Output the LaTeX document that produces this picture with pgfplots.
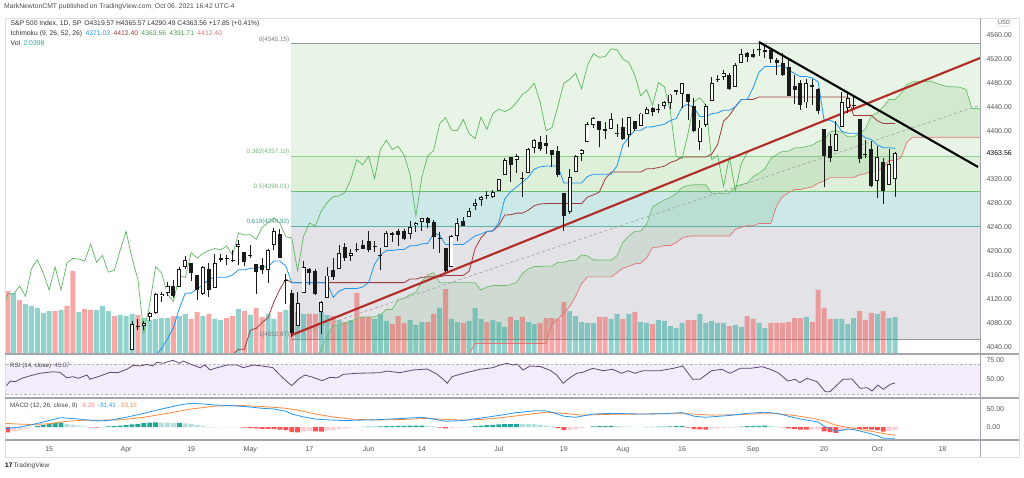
\documentclass[border=0pt]{standalone}
\usepackage{fontspec}
\setmainfont{Liberation Sans}
\usepackage{pgfplots}
\pgfplotsset{compat=1.18}
\usepackage{pgfplotstable}

\definecolor{tickgray}{HTML}{555555}
\definecolor{sepcol}{HTML}{A3A6AF}
\definecolor{framecol}{HTML}{DDDFE3}
\definecolor{fibA}{HTML}{E8F4E5}
\definecolor{fibB}{HTML}{DEF0DA}
\definecolor{fibC}{HTML}{CCE9E7}
\definecolor{fibD}{HTML}{E3E3E7}
\definecolor{fibl0}{HTML}{9598A1}
\definecolor{fibl1}{HTML}{8FCF92}
\definecolor{fibl2}{HTML}{6BBF6E}
\definecolor{fibl3}{HTML}{5DB3AA}
\definecolor{fibt1}{HTML}{74B877}
\definecolor{fibt3}{HTML}{3E9E94}
\definecolor{volup}{HTML}{26A69A}
\definecolor{voldn}{HTML}{EF5350}
\definecolor{convc}{HTML}{2196F3}
\definecolor{basec}{HTML}{A23B3B}
\definecolor{lagc}{HTML}{43A047}
\definecolor{lagline}{HTML}{5DB760}
\definecolor{spanac}{HTML}{6ABF69}
\definecolor{spanbc}{HTML}{E57373}
\definecolor{candark}{HTML}{1A1A1A}
\definecolor{trendred}{HTML}{B22B26}
\definecolor{rsifill}{HTML}{F3ECFB}
\definecolor{rsiline}{HTML}{5B4A70}
\definecolor{macdc}{HTML}{2196F3}
\definecolor{sigc}{HTML}{FF8A3D}
\definecolor{hg}{HTML}{26A69A}
\definecolor{hl}{HTML}{B2DFDB}
\definecolor{hr}{HTML}{FF5252}
\definecolor{hp}{HTML}{FFCDD2}

% daily bars: index (trading days from 15 Mar 2021), open, high, low, close, volume (bn)
\pgfplotstableread{
i O H L C V
-7 3818.5 3843.7 3723.3 3768.5 3.47
-6 3793.6 3851.7 3723.3 3841.9 3.36
-5 3844.4 3881.1 3819.3 3821.4 2.98
-4 3851.9 3903.8 3851.9 3875.4 2.76
-3 3891.0 3918.0 3866.0 3898.8 2.65
-2 3915.5 3960.3 3915.5 3939.3 2.54
-1 3924.5 3944.0 3906.0 3943.3 2.26
0 3943.0 3970.1 3923.5 3968.9 2.37
1 3973.6 3981.0 3953.4 3962.7 2.37
2 3949.6 3983.9 3935.7 3974.1 2.43
3 3953.5 3969.6 3910.0 3915.5 2.65
4 3913.1 3930.1 3886.8 3913.0 4.58
5 3916.5 3955.3 3905.6 3940.6 2.32
6 3937.6 3949.1 3901.8 3910.5 2.48
7 3919.9 3942.1 3889.1 3889.1 2.43
8 3879.3 3919.5 3853.5 3909.5 2.43
9 3917.1 3978.2 3917.1 3974.5 2.65
10 3969.3 3981.8 3923.5 3971.1 2.37
11 3963.3 3968.0 3943.0 3958.6 2.09
12 3967.3 3994.4 3959.0 3972.9 2.15
13 3992.8 4020.6 3992.8 4019.9 2.09
14 4034.4 4083.4 4034.4 4077.9 2.21
15 4075.6 4086.2 4068.1 4073.9 2.15
16 4074.3 4083.1 4068.3 4080.0 1.98
17 4090.0 4098.2 4082.5 4097.2 1.87
18 4096.1 4129.5 4095.5 4128.8 1.93
19 4124.7 4131.8 4114.8 4128.0 1.98
20 4130.1 4148.0 4124.4 4141.6 1.98
21 4141.6 4151.7 4120.9 4124.7 2.09
22 4139.8 4173.5 4139.8 4170.4 2.09
23 4174.1 4191.3 4170.8 4185.5 2.21
24 4179.8 4180.8 4150.5 4163.3 1.93
25 4159.2 4159.2 4118.4 4134.9 2.32
26 4128.4 4175.0 4126.4 4173.4 2.09
27 4170.5 4179.6 4123.7 4135.0 2.21
28 4138.8 4194.2 4138.8 4180.2 1.93
29 4185.0 4194.2 4182.4 4187.6 1.87
30 4188.3 4193.4 4176.2 4186.7 1.98
31 4185.1 4201.5 4181.8 4183.2 2.09
32 4206.1 4218.8 4176.8 4211.5 2.48
33 4198.1 4198.1 4174.9 4181.2 2.37
34 4192.0 4209.4 4188.0 4192.7 2.15
35 4179.0 4179.0 4128.6 4164.7 2.54
36 4177.1 4187.7 4160.9 4167.6 2.04
37 4169.1 4202.7 4147.3 4201.6 2.21
38 4210.3 4238.0 4201.6 4232.6 1.93
39 4228.3 4236.4 4188.1 4188.4 2.32
40 4150.3 4162.0 4111.5 4152.1 2.43
41 4130.6 4134.7 4056.6 4063.0 2.70
42 4075.0 4131.6 4075.0 4112.5 2.32
43 4129.6 4183.1 4129.6 4173.9 2.21
44 4169.9 4171.9 4142.7 4163.3 2.21
45 4165.9 4169.2 4126.0 4127.8 2.21
46 4098.5 4116.9 4061.4 4115.7 2.32
47 4122.0 4172.8 4122.0 4159.1 2.15
48 4168.6 4188.7 4151.7 4155.9 2.09
49 4170.2 4209.5 4170.2 4197.1 1.87
50 4205.9 4213.4 4182.5 4188.1 1.76
51 4191.6 4202.6 4184.1 4196.0 1.87
52 4201.9 4213.4 4197.8 4200.9 3.36
53 4210.8 4218.4 4203.6 4204.1 2.04
54 4216.5 4234.1 4197.6 4202.0 2.04
55 4206.8 4217.4 4198.3 4208.1 1.93
56 4191.4 4204.4 4167.9 4192.9 2.21
57 4206.1 4233.5 4206.1 4229.9 1.82
58 4229.3 4232.3 4215.7 4226.5 1.65
59 4233.8 4236.7 4208.4 4227.3 2.09
60 4233.0 4237.1 4218.7 4219.6 1.71
61 4228.6 4249.7 4220.3 4239.2 1.87
62 4242.9 4248.4 4232.3 4247.4 1.60
63 4248.3 4255.6 4234.1 4255.2 1.76
64 4255.3 4257.2 4238.4 4246.6 1.76
65 4248.9 4251.9 4202.5 4223.7 2.21
66 4220.4 4232.3 4196.1 4221.9 2.54
67 4204.8 4204.8 4164.4 4166.5 3.58
68 4173.4 4226.2 4173.4 4224.8 1.93
69 4224.6 4255.8 4217.3 4246.4 1.76
70 4249.3 4256.6 4241.4 4241.8 1.71
71 4257.0 4271.3 4257.0 4266.5 1.82
72 4274.5 4286.1 4268.0 4280.7 2.54
73 4284.9 4292.1 4274.7 4290.6 1.93
74 4293.2 4300.5 4286.2 4291.8 1.76
75 4290.7 4302.4 4288.0 4297.5 1.87
76 4300.7 4320.7 4300.7 4319.9 1.76
77 4326.6 4355.4 4326.6 4352.3 1.49
78 4356.5 4356.5 4314.4 4343.5 2.04
79 4351.0 4361.9 4329.8 4358.1 1.87
80 4321.1 4330.9 4289.4 4320.8 2.04
81 4329.4 4371.6 4329.4 4369.6 1.76
82 4372.4 4386.7 4364.0 4384.6 1.65
83 4381.1 4392.4 4366.9 4369.2 1.71
84 4380.1 4393.7 4362.4 4374.3 1.98
85 4369.0 4369.0 4340.7 4360.0 1.98
86 4367.4 4375.1 4322.5 4327.2 1.93
87 4296.4 4296.4 4233.1 4258.5 2.87
88 4265.1 4336.8 4262.1 4323.1 2.37
89 4331.1 4359.7 4331.1 4358.7 2.09
90 4361.3 4369.9 4350.1 4367.5 1.76
91 4381.2 4415.2 4381.2 4411.8 1.71
92 4409.6 4422.7 4405.5 4422.3 1.71
93 4416.4 4416.4 4372.5 4401.5 2.04
94 4403.0 4415.5 4387.0 4400.6 2.04
95 4403.6 4430.0 4403.6 4419.2 1.93
96 4395.1 4412.3 4389.7 4395.3 2.21
97 4406.9 4422.2 4384.8 4387.2 1.93
98 4392.7 4423.8 4373.0 4423.2 2.21
99 4416.0 4416.2 4400.2 4402.7 2.32
100 4408.9 4429.8 4408.9 4429.1 1.76
101 4429.1 4440.8 4429.1 4436.5 1.71
102 4437.8 4439.4 4424.7 4432.4 1.65
103 4435.8 4445.2 4430.0 4436.8 1.87
104 4442.2 4449.4 4436.4 4447.7 1.82
105 4446.1 4461.8 4436.0 4460.8 1.54
106 4464.8 4468.4 4460.8 4468.0 1.43
107 4461.7 4480.3 4437.7 4479.7 1.71
108 4462.1 4462.1 4417.8 4448.1 1.87
109 4440.9 4454.3 4397.6 4400.3 1.87
110 4382.4 4418.6 4367.7 4405.8 2.21
111 4410.6 4444.4 4406.8 4441.7 1.71
112 4450.3 4489.9 4450.3 4479.5 1.82
113 4484.4 4492.8 4482.3 4486.2 1.71
114 4490.5 4501.7 4485.7 4496.2 1.71
115 4493.8 4495.9 4469.0 4470.0 1.54
116 4474.1 4513.3 4474.1 4509.4 1.60
117 4513.8 4537.4 4513.8 4528.8 1.49
118 4529.8 4531.4 4515.8 4522.7 2.09
119 4528.8 4537.1 4522.0 4524.1 1.93
120 4534.5 4545.9 4524.7 4537.0 1.71
121 4532.4 4541.5 4521.3 4535.4 1.43
122 4535.4 4535.4 4513.0 4520.0 1.71
123 4518.1 4521.8 4494.0 4514.1 1.71
124 4513.0 4529.9 4492.1 4493.3 1.71
125 4506.9 4520.5 4457.7 4458.6 1.76
126 4474.8 4493.0 4445.7 4468.7 1.98
127 4479.3 4485.7 4435.5 4443.1 1.98
128 4447.5 4486.9 4438.4 4480.7 2.04
129 4477.1 4485.9 4443.8 4473.8 1.76
130 4469.7 4471.5 4427.8 4433.0 3.53
131 4403.0 4403.0 4305.9 4357.7 2.54
132 4374.5 4394.9 4348.0 4354.2 1.93
133 4367.4 4416.8 4367.4 4395.6 1.93
134 4406.8 4465.4 4406.8 4449.0 1.93
135 4438.0 4463.1 4430.3 4455.5 1.65
136 4442.1 4457.3 4436.2 4443.1 1.98
137 4419.5 4419.5 4346.3 4352.6 2.37
138 4362.4 4385.6 4355.1 4359.5 1.87
139 4370.7 4382.6 4306.2 4307.5 2.26
140 4317.2 4375.2 4288.5 4357.0 2.21
141 4348.8 4355.5 4278.9 4300.5 2.37
142 4309.9 4369.2 4309.9 4345.7 1.98
143 4319.57 4365.57 4290.49 4363.56 2.04
}\ohlc

% Ichimoku conversion (9) and base (26) lines
\pgfplotstableread{
i conv base
14 3968.5 3903.4
15 3969.9 3904.8
16 3969.9 3904.8
17 4007.6 3910.7
18 4026.5 3926.4
19 4037.4 3927.5
20 4053.5 3983.5
21 4072.2 4002.6
22 4104.0 4013.5
23 4129.7 4022.4
24 4129.8 4022.4
25 4136.9 4022.4
26 4143.4 4022.4
27 4153.1 4022.4
28 4156.3 4023.8
29 4156.3 4023.9
30 4156.3 4023.9
31 4160.0 4027.5
32 4168.6 4036.1
33 4168.6 4036.1
34 4171.2 4067.9
35 4171.2 4071.1
36 4173.7 4080.9
37 4173.7 4088.9
38 4183.3 4115.4
39 4183.3 4136.2
40 4174.8 4153.1
41 4147.3 4147.3
42 4147.3 4147.3
43 4147.3 4147.3
44 4147.3 4147.3
45 4147.3 4147.3
46 4147.3 4147.3
47 4146.5 4147.3
48 4122.7 4147.3
49 4133.0 4147.3
50 4137.4 4147.3
51 4137.4 4147.3
52 4137.4 4147.3
53 4139.9 4147.3
54 4147.8 4147.3
55 4178.0 4147.3
56 4192.9 4147.3
57 4201.0 4147.3
58 4201.0 4147.3
59 4202.3 4147.3
60 4202.5 4147.3
61 4208.8 4153.2
62 4208.8 4153.2
63 4211.8 4156.1
64 4212.5 4156.9
65 4229.8 4156.9
66 4226.6 4156.9
67 4210.8 4159.3
68 4210.8 4159.3
69 4210.8 4159.3
70 4210.8 4159.3
71 4217.8 4166.3
72 4225.3 4204.0
73 4228.3 4221.9
74 4232.5 4232.5
75 4233.4 4233.4
76 4247.0 4242.5
77 4286.4 4259.9
78 4298.9 4260.4
79 4306.7 4263.1
80 4314.9 4263.1
81 4323.1 4268.0
82 4336.4 4275.5
83 4340.2 4278.4
84 4341.5 4279.0
85 4341.5 4279.0
86 4341.5 4279.0
87 4313.4 4279.0
88 4313.4 4279.0
89 4313.4 4279.0
90 4313.4 4279.0
91 4324.2 4289.8
92 4327.9 4293.6
93 4327.9 4298.1
94 4327.9 4320.0
95 4327.9 4331.6
96 4342.4 4331.6
97 4376.9 4331.6
98 4390.0 4331.6
99 4401.2 4331.6
100 4401.2 4331.6
101 4406.7 4337.0
102 4406.9 4337.0
103 4409.1 4339.2
104 4411.2 4341.3
105 4417.4 4347.5
106 4420.7 4350.8
107 4440.2 4356.7
108 4444.6 4356.7
109 4438.9 4356.7
110 4424.0 4356.7
111 4424.0 4356.7
112 4428.8 4361.5
113 4430.3 4377.4
114 4434.7 4416.4
115 4434.7 4425.9
116 4440.5 4440.5
117 4452.5 4452.5
118 4452.5 4452.5
119 4472.1 4452.5
120 4498.1 4456.8
121 4507.4 4456.8
122 4507.4 4456.8
123 4507.4 4456.8
124 4510.0 4456.8
125 4501.8 4456.8
126 4495.8 4456.8
127 4490.7 4456.8
128 4490.7 4456.8
129 4488.5 4456.8
130 4481.6 4456.8
131 4417.9 4456.8
132 4417.9 4456.8
133 4413.2 4456.8
134 4399.5 4456.8
135 4396.4 4456.8
136 4396.4 4425.9
137 4395.9 4425.9
138 4388.7 4425.9
139 4385.7 4425.9
140 4377.0 4417.2
141 4372.2 4412.4
142 4372.2 4412.4
143 4371.03 4412.40
}\ichi

% leading spans A and B (value at source bar; drawn 25 bars ahead)
\pgfplotstableread{
i A B
14 3936.0 3888.8
15 3937.4 3890.2
16 3937.4 3890.2
17 3959.2 3896.2
18 3976.5 3911.8
19 3982.5 3912.9
20 4018.5 3921.1
21 4037.4 3922.9
22 4058.8 3948.4
23 4076.0 3957.3
24 4076.1 3957.3
25 4079.7 3957.3
26 4082.9 3957.3
27 4087.8 3957.3
28 4090.0 3958.8
29 4090.1 3958.8
30 4090.1 3958.8
31 4093.8 3962.4
32 4102.4 3971.1
33 4102.4 3971.1
34 4119.6 3971.1
35 4121.2 3971.1
36 4127.3 3971.1
37 4131.3 3971.1
38 4149.4 3980.7
39 4159.8 3980.7
40 4164.0 3980.7
41 4147.3 3980.7
42 4147.3 3980.7
43 4147.3 3980.7
44 4147.3 3980.7
45 4147.3 3980.7
46 4147.3 4028.6
47 4146.9 4045.7
48 4135.0 4045.7
49 4140.2 4045.7
50 4142.4 4045.7
51 4142.4 4045.7
52 4142.4 4045.7
53 4143.6 4045.7
54 4147.6 4045.7
55 4162.7 4045.7
56 4170.1 4045.7
57 4174.2 4045.7
58 4174.2 4045.7
59 4174.8 4045.7
60 4174.9 4077.6
61 4181.0 4086.6
62 4181.0 4096.4
63 4184.0 4107.6
64 4184.7 4125.0
65 4193.4 4145.8
66 4191.8 4156.9
67 4185.1 4156.9
68 4185.1 4156.9
69 4185.1 4156.9
70 4185.1 4156.9
71 4192.1 4163.9
72 4214.7 4171.4
73 4225.1 4174.4
74 4232.5 4178.6
75 4233.4 4179.5
76 4244.8 4188.6
77 4273.2 4206.0
78 4279.7 4206.5
79 4284.9 4209.2
80 4289.0 4209.2
81 4295.6 4214.1
82 4306.0 4221.6
83 4309.3 4224.5
84 4310.3 4225.1
85 4310.3 4225.1
86 4310.3 4225.1
87 4296.2 4225.1
88 4296.2 4225.1
89 4296.2 4225.1
90 4296.2 4225.1
91 4307.0 4235.9
92 4310.8 4239.7
93 4313.0 4242.1
94 4324.0 4242.1
95 4329.8 4245.7
96 4337.0 4245.7
97 4354.3 4245.7
98 4360.8 4276.0
99 4366.4 4290.8
100 4366.4 4297.2
101 4371.9 4302.6
102 4372.0 4302.6
103 4374.2 4304.8
104 4376.3 4306.9
105 4382.5 4313.1
106 4385.8 4316.4
107 4398.5 4322.3
108 4400.7 4322.3
109 4397.8 4322.3
110 4390.4 4322.3
111 4390.4 4322.3
112 4395.2 4327.1
113 4403.9 4328.6
114 4425.6 4333.1
115 4430.3 4333.1
116 4440.5 4338.9
117 4452.5 4350.9
118 4452.5 4350.9
119 4462.3 4355.4
120 4477.5 4381.6
121 4482.1 4389.5
122 4482.1 4389.5
123 4482.1 4389.5
124 4483.4 4389.5
125 4479.3 4389.5
126 4476.3 4389.5
127 4473.8 4389.5
128 4473.8 4389.5
129 4472.7 4389.5
130 4469.2 4389.5
131 4437.4 4389.5
132 4437.4 4389.5
133 4435.0 4389.5
134 4428.2 4389.5
135 4426.6 4389.5
136 4411.2 4389.5
137 4410.9 4389.5
138 4407.3 4389.5
139 4405.8 4404.0
140 4397.1 4417.2
141 4392.3 4412.4
142 4392.3 4412.4
143 4391.71 4412.40
}\leadtab

\pgfplotsset{
  pane/.style={scale only axis, width=975pt, xmin=-7.473, xmax=157.36,
    anchor=south west, clip=true, axis line style={draw=none},
    major tick length=0pt, tick style={draw=none}},
  scalelab/.style={yticklabel pos=right, ytick pos=right,
    yticklabel style={font=\fontsize{7}{8}\selectfont, text=tickgray, anchor=west, xshift=3pt},
    /pgf/number format/assume math mode=true,
    /pgf/number format/fixed, /pgf/number format/fixed zerofill,
    /pgf/number format/precision=2, /pgf/number format/1000 sep={}},
}

\begin{document}
\begin{tikzpicture}[x=1pt,y=1pt]
\useasboundingbox (0,0) rectangle (1024,477);
\fill[white] (0,0) rectangle (1024,477);

% ---------- price pane: fib background
\begin{axis}[pane, at={(5pt,123pt)}, height=336pt, ymin=4028.33, ymax=4588.33,
  xtick=\empty, ytick=\empty]
  \addplot[draw=none, fill=fibA] coordinates {(40.88,4545.15) (158,4545.15) (158,4357.10) (40.88,4357.10) (40.88,4545.15)};
  \addplot[draw=none, fill=fibB] coordinates {(40.88,4357.10) (158,4357.10) (158,4299.01) (40.88,4299.01) (40.88,4357.10)};
  \addplot[draw=none, fill=fibC] coordinates {(40.88,4299.01) (158,4299.01) (158,4240.92) (40.88,4240.92) (40.88,4299.01)};
  \addplot[draw=none, fill=fibD] coordinates {(40.88,4240.92) (158,4240.92) (158,4052.87) (40.88,4052.87) (40.88,4240.92)};
  \addplot[fibl0, line width=1pt] coordinates {(40.88,4545.15) (158,4545.15)};
  \addplot[fibl1, line width=1pt] coordinates {(40.88,4357.10) (158,4357.10)};
  \addplot[fibl2, line width=1pt] coordinates {(40.88,4299.01) (158,4299.01)};
  \addplot[fibl3, line width=1.3pt] coordinates {(40.88,4240.92) (158,4240.92)};
  \addplot[fibl0, line width=1pt] coordinates {(40.88,4052.87) (158,4052.87)};
\end{axis}

% ---------- Ichimoku cloud (stacked: span B, then A minus B)
\begin{axis}[pane, at={(5pt,123pt)}, height=336pt, ymin=4028.33, ymax=4588.33,
  xtick=\empty, ytick=\empty, stack plots=y]
  \addplot[draw=none] table[x expr=\thisrow{i}+25, y=B] \leadtab;
  \addplot[draw=none, fill=lagc, fill opacity=0.13] table[x expr=\thisrow{i}+25, y expr=\thisrow{A}-\thisrow{B}] \leadtab \closedcycle;
\end{axis}

% ---------- volume overlay
\begin{axis}[pane, at={(5pt,123pt)}, height=336pt, ymin=0, ymax=18.52,
  xtick=\empty, ytick=\empty]
  \addplot[ybar, bar width=5pt, bar shift=0pt, draw=none, fill=volup, fill opacity=0.5]
    table[x=i, y expr={(\thisrow{C}>=\thisrow{O})*\thisrow{V}}] \ohlc;
  \addplot[ybar, bar width=5pt, bar shift=0pt, draw=none, fill=voldn, fill opacity=0.5]
    table[x=i, y expr={(\thisrow{C}<\thisrow{O})*\thisrow{V}}] \ohlc;
\end{axis}

% ---------- price pane: lines, candles, scale
\begin{axis}[pane, scalelab, at={(5pt,123pt)}, height=336pt, ymin=4028.33, ymax=4588.33,
  xtick=\empty,
  ytick={4040,4080,4120,4160,4200,4240,4280,4320,4400,4440,4480,4520,4560},
  extra y ticks={4363.56},
  extra y tick style={yticklabel style={text=black}}]
  % Ichimoku lines
  \addplot[spanac, line width=0.7pt] table[x expr=\thisrow{i}+25, y=A] \leadtab;
  \addplot[spanbc, line width=0.7pt] table[x expr=\thisrow{i}+25, y=B] \leadtab;
  \addplot[basec, line width=0.8pt] table[x=i, y=base] \ichi;
  \addplot[convc, line width=0.8pt] table[x=i, y=conv] \ichi;
  \addplot[lagline, line width=0.7pt] table[x expr=\thisrow{i}-25, y=C] \ohlc;
  % trend lines
  \addplot[gray!70, line width=0.7pt, dash pattern=on 3pt off 2.5pt] coordinates {(41.0,4058.3) (157.4,4443.3)};
  \addplot[trendred, line width=2.1pt] coordinates {(41.0,4060.0) (157.4,4521.7)};
  % candles: wicks, bodies, hollow interiors
  \addplot[draw=none, mark=none, error bars/.cd, y dir=plus, y explicit, error mark=none,
    error bar style={line width=1pt, draw=candark, solid}]
    table[x=i, y=L, y error plus expr=\thisrow{H}-\thisrow{L}] \ohlc;
  \addplot[draw=none, mark=none, error bars/.cd, y dir=plus, y explicit, error mark=none,
    error bar style={line width=4pt, draw=candark, solid}]
    table[x=i, y expr={min(\thisrow{O},\thisrow{C})}, y error plus expr={max(abs(\thisrow{C}-\thisrow{O}),1.6)}] \ohlc;
  \addplot[draw=none, mark=none, error bars/.cd, y dir=plus, y explicit, error mark=none,
    error bar style={line width=2.2pt, draw=white, solid}]
    table[x=i, y expr={min(\thisrow{O},\thisrow{C})+1.6}, y error plus expr={max(\thisrow{C}-\thisrow{O}-3.2,0)}] \ohlc;
  \addplot[black, line width=2.1pt] coordinates {(120.0,4548.3) (157.03,4340.0)};
  % fib labels
  \begin{scope}[every node/.style={anchor=east, inner sep=0.5pt, yshift=4.5pt, font=\fontsize{6.3}{7}\selectfont}]
  \node[text=fibl0!80!black] at (axis cs:40.7,4545.15) {0(4545.15)};
  \node[text=fibt1] at (axis cs:40.7,4357.10) {0.382(4357.10)};
  \node[text=fibt1] at (axis cs:40.7,4299.01) {0.5(4299.01)};
  \node[text=fibt3] at (axis cs:40.7,4240.92) {0.618(4240.92)};
  \node[text=fibl0!80!black] at (axis cs:40.7,4052.87) {1(4052.87)};
  \end{scope}
\end{axis}

% ---------- RSI pane
\begin{axis}[pane, scalelab, at={(5pt,79pt)}, height=44pt, ymin=25.07, ymax=83.73,
  xtick=\empty, ytick={50,75}]
  \addplot[draw=none, fill=rsifill] coordinates {(-8,30) (158,30) (158,70) (-8,70) (-8,30)};
  \addplot[gray!60, line width=0.6pt, dash pattern=on 2.5pt off 2pt] coordinates {(-8,70) (158,70)};
  \addplot[gray!60, line width=0.6pt, dash pattern=on 2.5pt off 2pt] coordinates {(-8,30) (158,30)};
  \addplot[rsiline, line width=0.8pt] coordinates {
(-7.2,41.5) (-6.6,47.7) (-5.8,46.8) (-4.4,52) (-2.7,55.7) (-1.6,58) (0.6,60) (1.8,59.3) (3,52) (4,53.5) (4.9,51.3) (6.4,55.7) (6.9,50) (8.6,54.4) (10.3,59.3) (11.6,58.8) (13.2,63.7) (14.2,68.7) (15.4,67.7) (16.5,70) (17.5,67.7) (18.2,72.7) (19.2,71.3) (20.1,73.5) (20.9,75.3) (22.1,71.3) (22.6,74.4) (24.3,69) (25.5,65.5) (26.3,69) (27.2,62.4) (28.4,65.5) (30.1,69) (31.8,69) (32.8,65.5) (34.5,69) (36.1,67.7) (37.8,65.5) (39,55.7) (39.9,49) (41,41.5) (42.1,50) (43.2,55.7) (44.6,52.6) (46.1,48.2) (47.5,52.6) (48.7,52) (49.7,56.6) (52,58) (55.9,58.8) (57.1,61) (59.3,58.8) (61.5,62.4) (63.9,63.7) (65.6,56.6) (66.6,50) (67.3,44.7) (68.1,53.5) (69.4,56.6) (71.1,60) (72.8,63.3) (75,65.5) (76.2,69) (77.4,71.3) (78.4,69) (79.1,70.4) (80.1,62.4) (81.3,67.7) (83,67) (84.7,62) (85.8,55.7) (86.9,44.7) (88,52) (89.2,58) (90.2,59.3) (91.9,64.6) (93.6,61.5) (95.2,63.3) (96.8,58) (97.9,61.5) (99,58) (100.4,61.5) (103.3,61.5) (105.5,64.6) (107.1,67.7) (108.8,50) (110,50) (112,61.5) (113.7,63.3) (115.1,58) (116.8,64.6) (118.5,64.6) (120.5,66.8) (121.9,63.3) (123.2,58.8) (124.9,47.7) (126.1,50) (126.9,45.5) (128.1,51.3) (129.8,46.8) (131.2,33.5) (132,33.5) (134.2,50) (135.7,50.4) (137.1,38) (138.3,38.8) (139.1,34.4) (140.1,42.4) (141,36.7) (142.2,43.3) (143,45.07)};
\end{axis}

% ---------- MACD pane
\begin{axis}[pane, scalelab, at={(5pt,37pt)}, height=42pt, ymin=-36.11, ymax=80.56,
  ytick={0,50},
  xtick={0,13,24,34,44,54,63,76,87,97,107,119,131,140,151},
  xticklabels={15,Apr,19,May,17,Jun,14,Jul,19,Aug,16,Sep,20,Oct,18},
  xticklabel style={font=\fontsize{7}{8}\selectfont, text=tickgray, anchor=base, yshift=-11pt}]
  \addplot[ybar, bar width=4.9pt, bar shift=0pt, draw=none, fill=hg] coordinates {
(-2,3) (-1,6) (0,9) (1,11) (2,12.5) (9,0.5) (10,1.5) (11,2.5) (12,4) (13,5.5) (14,7) (15,8.5) (16,10.5) (17,12) (18,13) (22,11.5)
(54,1) (55,1.4) (56,1.8) (57,2.2) (58,2.6) (59,3) (60,3.2) (61,3.5) (62,3.7) (63,4)
(71,0.6) (72,2.4) (73,4) (74,5) (75,6) (76,7) (77,7.7) (78,8.3) (79,9)
(92,2) (93,2.2) (94,2.5) (95,2.8) (101,0.3) (102,0.6) (103,0.9) (104,1.2) (105,1.8) (106,2.4) (107,3)
(116,0.5) (117,1.25) (118,2.5) (119,2.75) (120,3) (121,4)};
  \addplot[ybar, bar width=4.9pt, bar shift=0pt, draw=none, fill=hl] coordinates {
(3,9) (4,6.5) (5,4) (6,1.5) (19,12.5) (20,12) (21,11) (23,10) (24,8) (25,6) (26,3) (52,0.4) (53,0.8)
(64,3) (65,1.5) (80,8.7) (81,8.3) (82,8) (83,6) (84,4) (85,1.5) (96,2.3) (97,1.7) (98,1.1) (99,0.6) (100,0.3) (122,2.5) (123,1)};
  \addplot[ybar, bar width=4.9pt, bar shift=0pt, draw=none, fill=hr] coordinates {
(-7,-15) (7,-1) (8,-1.8) (33,-2) (34,-3) (35,-4) (36,-5) (37,-5.5) (38,-6) (39,-7) (40,-9) (41,-14) (42,-15) (45,-12) (46,-12.5)
(66,-1.5) (67,-3.5) (86,-3) (87,-8) (108,-2) (109,-6) (110,-6.5) (111,-7)
(124,-1.3) (125,-3.7) (126,-6) (127,-7.3) (128,-7.4) (131,-12) (132,-14) (133,-16) (137,-5) (138,-6) (139,-7.5) (140,-9) (141,-13)};
  \addplot[ybar, bar width=4.9pt, bar shift=0pt, draw=none, fill=hp] coordinates {
(-6,-12) (-5,-9) (-4,-5) (-3,-1) (27,-1.5) (28,-1.2) (29,-1) (30,-1.2) (31,-1) (32,-0.8) (43,-13) (44,-11)
(47,-10) (48,-8) (49,-6) (50,-4) (51,-2) (68,-2.5) (69,-1.8) (70,-1) (88,-7.8) (89,-6.5) (90,-3) (91,-0.5)
(112,-4.75) (113,-3.75) (114,-2.75) (115,-1.75) (129,-7) (130,-6.5) (134,-11) (135,-5) (136,-3.5) (142,-10.6) (143,-8.26)};
  \addplot[sigc, line width=0.8pt] coordinates {
(-7.5,10) (-5,8) (-3,7) (0,9) (3,16) (6,19) (9,19) (12,20) (16,27) (20,38) (24,50) (28,58) (32,60) (36,57) (40,52) (42,47) (45,36) (48,28) (51,22) (55,19.5) (60,21) (64,24) (67,21) (70,19) (73,21) (76,25) (80,33) (84,41) (87,38) (90,33) (94,35) (100,36) (105,37) (108,37) (112,33) (116,34) (120,37) (123,37) (126,32) (129,24) (131,17) (133,5) (135,-1) (137,-6) (139,-12) (141,-18) (143,-23.15)};
  \addplot[macdc, line width=0.8pt] coordinates {
(-7.5,-5) (-5,0) (-3,6) (0,18) (2,26) (5,22) (8,17) (10,18) (13,27) (16,38) (19,50) (22,61) (24,66) (26,64) (28,61) (30,60) (33,57) (36,52) (38,50) (40,44) (41,36) (43,28) (45,22) (48,19) (50,18) (55,20) (60,24) (63,27) (65,22) (67,16) (70,18) (73,25) (76,32) (79,40) (82,45) (84,45) (86,36) (87,30) (89,27) (92,36) (95,38) (100,36) (104,37) (107,40) (109,30) (111,27) (115,32) (118,38) (121,41) (123,38) (127,22) (130,14) (131,2) (133,-12) (135,-6) (136,-7) (138,-15) (140,-24) (141,-31) (143,-31.41)};
\end{axis}

% ---------- frame and separators
\draw[framecol, line width=0.8pt] (5,20) rectangle (1019,459);
\draw[sepcol, line width=1.2pt] (5,123) -- (1019,123);
\draw[sepcol, line width=1.2pt] (5,79) -- (1019,79);
\draw[sepcol, line width=1.2pt] (5,37) -- (1019,37);
\draw[sepcol, line width=1pt] (980,20) -- (980,459);

% ---------- texts
\node[anchor=west, inner sep=0pt, font=\fontsize{6.8}{7.5}\selectfont, text=black!70] at (4,470)
  {MarkNewtonCMT published on TradingView.com, Oct 06, 2021 16:42 UTC-4};
\node[anchor=west, inner sep=0pt, font=\fontsize{6.8}{7.5}\selectfont, text=black!80] at (10.5,453)
  {S\&P 500 Index, 1D, SP\hspace{3pt}O4319.57\hspace{1.8pt}H4365.57\hspace{1.8pt}L4290.49\hspace{1.8pt}C4363.56\hspace{1.8pt}+17.85 (+0.41\%)};
\node[anchor=west, inner sep=0pt, font=\fontsize{6.8}{7.5}\selectfont, text=black!80] at (10.5,443.5)
  {Ichimoku (9, 26, 52, 26)\enspace\textcolor{convc}{4371.03}\enspace\textcolor{basec}{4412.40}\enspace\textcolor{lagc}{4363.56}\enspace\textcolor{lagc}{4391.71}\enspace\textcolor{spanbc}{4412.40}};
\node[anchor=west, inner sep=0pt, font=\fontsize{6.8}{7.5}\selectfont, text=black!80] at (10.5,434)
  {Vol\enspace\textcolor{volup}{2.0398}};
\node[anchor=west, inner sep=0pt, font=\fontsize{6.2}{7}\selectfont, text=black!75] at (10,111)
  {RSI (14, close)\enspace\textcolor{rsiline}{45.07}};
\node[anchor=west, inner sep=0pt, font=\fontsize{6.3}{7}\selectfont, text=black!75] at (10,71)
  {MACD (12, 26, close, 9)\enspace\textcolor{hr!70}{-8.26}\enspace\textcolor{macdc}{-31.41}\enspace\textcolor{sigc}{-23.15}};
\node[draw=gray!50, rounded corners=1.5pt, inner sep=1.2pt, font=\fontsize{5.5}{6}\selectfont, text=tickgray] at (1004,454) {USD};
\node[anchor=west, inner sep=0pt, font=\fontsize{6.5}{7}\selectfont, text=black!75] at (5,11)
  {\textbf{\textcolor{black}{17}}\,TradingView};
\end{tikzpicture}
\end{document}
